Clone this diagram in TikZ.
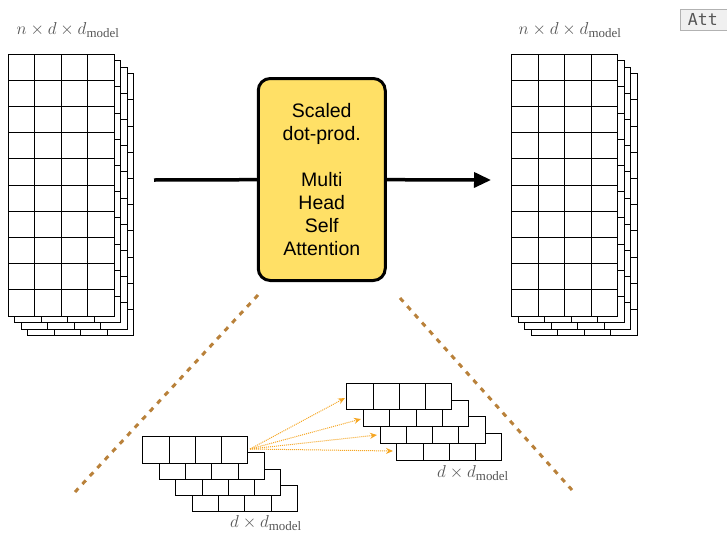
\documentclass[tikz,border=0pt]{standalone}
\usepackage{fontspec}
\setmainfont{Liberation Serif}
\newfontfamily\boxfont{Liberation Sans}
\newfontfamily\attfont{DejaVu Sans Mono}
\usetikzlibrary{positioning}
\usetikzlibrary{arrows.meta}
\definecolor{attyellow}{HTML}{FFE066}
\definecolor{dashbrown}{HTML}{B9813A}
\definecolor{arrorange}{HTML}{F5A623}
\definecolor{labelgray}{HTML}{555555}
\tikzset{
    cell/.style = {draw=black, fill=white, line width=0.8pt},
    attbox/.style = {rectangle, rounded corners=12pt, line width=3pt, draw=black, fill=attyellow, align=center,
                     minimum width=127pt, minimum height=202pt, inner sep=0pt,
                     font=\boxfont\fontsize{19.5}{23}\selectfont, text=black},
    dimlabel/.style = {text=labelgray, font=\fontsize{18.5}{20}\selectfont, inner sep=0pt},
    tabnode/.style = {rectangle, draw=gray!60, fill=gray!12, line width=0.8pt, inner xsep=8pt, minimum height=21pt,
                      text width=46pt, align=left,
                      font=\attfont\fontsize{16.5}{18}\selectfont, text=labelgray, anchor=west},
    edgemain/.style = {line width=3.5pt, black},
    edgezoom/.style = {line width=3pt, dashbrown, dash pattern=on 5pt off 6pt},
    edgehead/.style = {arrorange, densely dotted, line width=1pt, -{Stealth[length=7pt,width=6pt]}}
}

\begin{document}
\begin{tikzpicture}[x=1pt, y=-1pt]
\path[use as bounding box] (0,0) rectangle (727,541);

% input and output tensors, back layers first
\foreach \k in {3,2,1,0} {
  \foreach \i in {0,...,3} \foreach \j in {0,...,9} {
    \draw[cell] ({8+\k*6.5+\i*26.5},{54+\k*6.5+\j*26.2}) rectangle ++(26.5,26.2);
    \draw[cell] ({511.5+\k*6.5+\i*26.5},{54+\k*6.5+\j*26.2}) rectangle ++(26.5,26.2);
  }
}
\node[dimlabel] at (68, 30) (inlabel) {$n \times d \times d_{\mathrm{model}}$};
\node[dimlabel] at (570, 30) (outlabel) {$n \times d \times d_{\mathrm{model}}$};

% attention block
\node[attbox] at (321.75, 179.5) (att) {Scaled\\dot-prod.\\[23pt]Multi\\Head\\Self\\Attention};
\coordinate (in) at (154, 180);
\coordinate (out) at (491, 180);
\draw[edgemain] (in) -- (att);
\draw[edgemain, -{Triangle[length=17pt,width=15pt]}] (att) -- (out);

% zoom lines
\coordinate (zla) at (258, 295);
\coordinate (zlb) at (75, 492);
\coordinate (zra) at (400, 298);
\coordinate (zrb) at (572, 490);
\draw[edgezoom] (zla) -- (zlb);
\draw[edgezoom] (zra) -- (zrb);

% one head: query rows and key rows
\foreach \r in {3,2,1,0} {
  \foreach \i in {0,...,3} {
    \draw[cell] ({142.7+\r*16.5+\i*26.25},{436.7+\r*16.1}) rectangle ++(26.25,26.5);
    \draw[cell] ({346.7+\r*16.7+\i*26.25},{383.3+\r*16.7}) rectangle ++(26.25,26.5);
  }
}
\node[dimlabel] at (266, 523) (qlabel) {$d \times d_{\mathrm{model}}$};
\node[dimlabel] at (473, 473) (klabel) {$d \times d_{\mathrm{model}}$};

\coordinate (q) at (250, 449);
\coordinate (k1) at (345, 398);
\coordinate (k2) at (361, 419);
\coordinate (k3) at (377, 435);
\coordinate (k4) at (393, 451);
\draw[edgehead] (q) -- (k1);
\draw[edgehead] (q) -- (k2);
\draw[edgehead] (q) -- (k3);
\draw[edgehead] (q) -- (k4);

\node[tabnode] at (679.5, 19.5) (tab) {Att};
\end{tikzpicture}
\end{document}
